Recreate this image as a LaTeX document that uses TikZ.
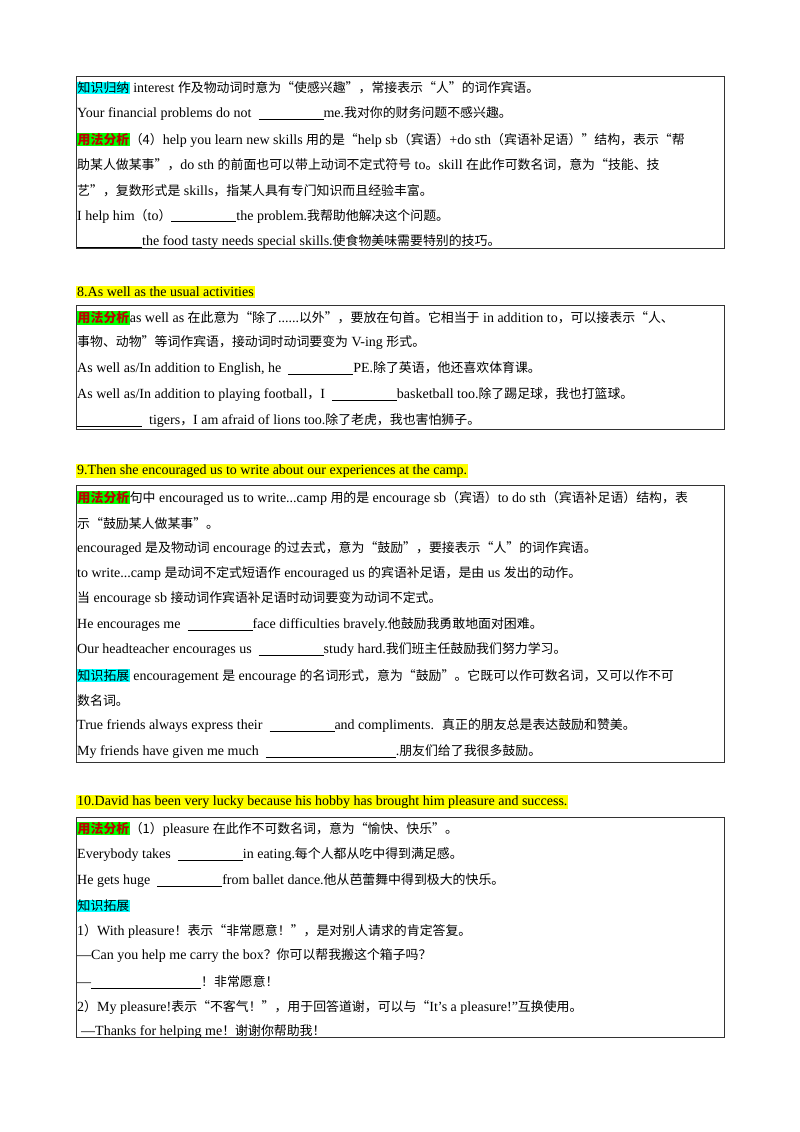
\documentclass[tikz,border=0pt]{standalone}
\usepackage{fontspec}
\setmainfont{Liberation Serif}
\newfontfamily\cjk{Noto Sans CJK SC}
\usetikzlibrary{positioning}
\definecolor{tagcyan}{RGB}{0,255,255}
\definecolor{taggreen}{RGB}{0,255,0}
\definecolor{hlyellow}{RGB}{255,255,0}
\newcommand{\zh}[1]{{\cjk\fontsize{12.9}{13}\selectfont #1}}
\newcommand{\blank}[1]{\rule[-2pt]{#1}{0.6pt}}
\newcommand{\tagK}[1]{{\setlength{\fboxsep}{0.5pt}\colorbox{tagcyan}{\zh{#1}}}}
\newcommand{\tagU}[1]{{\setlength{\fboxsep}{0.5pt}\colorbox{taggreen}{\textcolor{red!75!black}{\zh{\bfseries #1}}}}}
\newcommand{\hl}[1]{{\setlength{\fboxsep}{1pt}\colorbox{hlyellow}{#1}}}
\begin{document}
\begin{tikzpicture}[x=1pt,y=-1pt,
  ln/.style={anchor=west, inner sep=0pt, font=\fontsize{14}{16}\selectfont},
  box/.style={draw=black!80, line width=0.8pt}]
\useasboundingbox (0,0) rectangle (800,1132);

% box one
\draw[box] (76,76) rectangle (724,248);
\node[ln] (a1) at (77,88) {\tagK{知识归纳} interest \zh{作及物动词时意为“使感兴趣”，常接表示“人”的词作宾语。}};
\node[ln] (a2) at (77,114) {Your financial problems do not \ \blank{65pt}me.\zh{我对你的财务问题不感兴趣。}};
\node[ln] (a3) at (77,140) {\tagU{用法分析}\zh{（4）}help you learn new skills \zh{用的是“}help sb\zh{（宾语）}+do sth\zh{（宾语补足语）”结构，表示“帮}};
\node[ln] (a4) at (77,165) {\zh{助某人做某事”，}do sth \zh{的前面也可以带上动词不定式符号} to\zh{。}skill \zh{在此作可数名词，意为“技能、技}};
\node[ln] (a5) at (77,191) {\zh{艺”，复数形式是} skills\zh{，指某人具有专门知识而且经验丰富。}};
\node[ln] (a6) at (77,216) {I help him\zh{（}to\zh{）}\blank{65pt}the problem.\zh{我帮助他解决这个问题。}};
\node[ln] (a7) at (77,242) {\blank{65pt}the food tasty needs special skills.\zh{使食物美味需要特别的技巧。}};

% heading eight and box two
\node[ln] (h8) at (76,292) {\hl{8.As well as the usual activities}};
\draw[box] (76,305) rectangle (724,429);
\node[ln] (b1) at (77,318) {\tagU{用法分析}as well as \zh{在此意为“除了}......\zh{以外”，要放在句首。它相当于} in addition to\zh{，可以接表示“人、}};
\node[ln] (b2) at (77,343) {\zh{事物、动物”等词作宾语，接动词时动词要变为} V-ing \zh{形式。}};
\node[ln] (b3) at (77,369) {As well as/In addition to English, he \ \blank{65pt}PE.\zh{除了英语，他还喜欢体育课。}};
\node[ln] (b4) at (77,395) {As well as/In addition to playing football\zh{，}I \ \blank{65pt}basketball too.\zh{除了踢足球，我也打篮球。}};
\node[ln] (b5) at (77,421) {\blank{65pt} \ tigers\zh{，}I am afraid of lions too.\zh{除了老虎，我也害怕狮子。}};

% heading nine and box three
\node[ln] (h9) at (76,471) {\hl{9.Then she encouraged us to write about our experiences at the camp.}};
\draw[box] (76,485) rectangle (724,762);
\node[ln] (c1) at (77,498) {\tagU{用法分析}\zh{句中} encouraged us to write...camp \zh{用的是} encourage sb\zh{（宾语）}to do sth\zh{（宾语补足语）结构，表}};
\node[ln] (c2) at (77,524) {\zh{示“鼓励某人做某事”。}};
\node[ln] (c3) at (77,549) {encouraged \zh{是及物动词} encourage \zh{的过去式，意为“鼓励”，要接表示“人”的词作宾语。}};
\node[ln] (c4) at (77,574) {to write...camp \zh{是动词不定式短语作} encouraged us \zh{的宾语补足语，是由} us \zh{发出的动作。}};
\node[ln] (c5) at (77,599) {\zh{当} encourage sb \zh{接动词作宾语补足语时动词要变为动词不定式。}};
\node[ln] (c6) at (77,625) {He encourages me \ \blank{65pt}face difficulties bravely.\zh{他鼓励我勇敢地面对困难。}};
\node[ln] (c7) at (77,650) {Our headteacher encourages us \ \blank{65pt}study hard.\zh{我们班主任鼓励我们努力学习。}};
\node[ln] (c8) at (77,676) {\tagK{知识拓展} encouragement \zh{是} encourage \zh{的名词形式，意为“鼓励”。它既可以作可数名词，又可以作不可}};
\node[ln] (c9) at (77,701) {\zh{数名词。}};
\node[ln] (c10) at (77,726) {True friends always express their \ \blank{65pt}and compliments. \ \zh{真正的朋友总是表达鼓励和赞美。}};
\node[ln] (c11) at (77,752) {My friends have given me much \ \blank{130pt}.\zh{朋友们给了我很多鼓励。}};

% heading ten and box four
\node[ln] (h10) at (76,802) {\hl{10.David has been very lucky because his hobby has brought him pleasure and success.}};
\draw[box] (76,817) rectangle (724,1037);
\node[ln] (d1) at (77,829) {\tagU{用法分析}\zh{（1）}pleasure \zh{在此作不可数名词，意为“愉快、快乐”。}};
\node[ln] (d2) at (77,855) {Everybody takes \ \blank{65pt}in eating.\zh{每个人都从吃中得到满足感。}};
\node[ln] (d3) at (77,881) {He gets huge \ \blank{65pt}from ballet dance.\zh{他从芭蕾舞中得到极大的快乐。}};
\node[ln] (d4) at (77,906) {\tagK{知识拓展}};
\node[ln] (d5) at (77,931) {1\zh{）}With pleasure\zh{！表示“非常愿意！”，是对别人请求的肯定答复。}};
\node[ln] (d6) at (77,956) {---Can you help me carry the box\zh{？你可以帮我搬这个箱子吗？}};
\node[ln] (d7) at (77,982) {---\blank{110pt}\zh{！非常愿意！}};
\node[ln] (d8) at (77,1007) {2\zh{）}My pleasure!\zh{表示“不客气！”，用于回答道谢，可以与“}It's a pleasure!"\zh{互换使用。}};
\node[ln] (d9) at (81,1032) {---Thanks for helping me\zh{！谢谢你帮助我！}};
\end{tikzpicture}
\end{document}
